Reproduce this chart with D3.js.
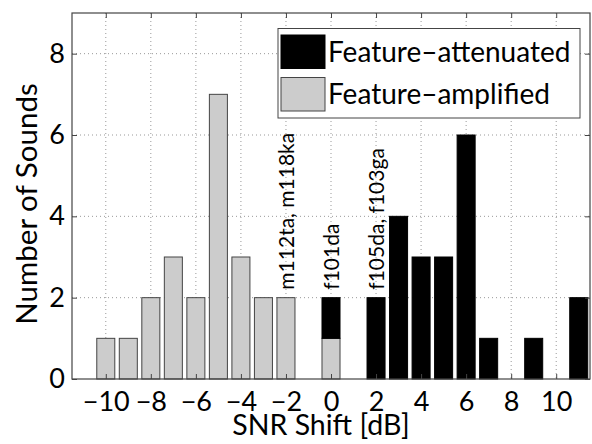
<!DOCTYPE html>
<html>
<head lang="en">
  <meta charset="UTF-8">
  <title>SNR shift histogram</title>
  <script src="https://cdn.jsdelivr.net/npm/d3@7"></script>
</head>
<style>
  body { margin: 0; background: #fff; }
  #chart text { font-family: Lato, "Liberation Sans", sans-serif; fill: #000; }
  .grid line { stroke: #999; stroke-width: 1; stroke-dasharray: 1,3; }
  .frame { fill: none; stroke: #444; stroke-width: 1.2; }
</style>
<body>

<svg id="chart" width="592" height="444"></svg>

<script>
  // data
  var shifts     = [-10, -9, -8, -7, -6, -5, -4, -3, -2, -1, 0, 1, 2, 3, 4, 5, 6, 7, 8, 9, 10, 11];
  var amplified  = [  1,  1,  2,  3,  2,  7,  3,  2,  2,  0, 1, 0, 0, 0, 0, 0, 0, 0, 0, 0,  0, 0];
  var attenuated = [  0,  0,  0,  0,  0,  0,  0,  0,  0,  0, 1, 0, 2, 4, 3, 3, 6, 1, 0, 1,  0, 2];
  var xTicks     = [-10, -8, -6, -4, -2, 0, 2, 4, 6, 8, 10];
  var yTicks     = [0, 2, 4, 6, 8];
  var notes      = [
    { shift: -2, label: 'm112ta, m118ka' },
    { shift: 0,  label: 'f101da' },
    { shift: 2,  label: 'f105da, f103ga' }
  ];
  var seriesNames = ['Feature–attenuated', 'Feature–amplified'];

  // plot box (window.top is reserved, so prefixed names)
  var plotLeft = 72, plotRight = 590, plotTop = 13, plotBottom = 379;
  var barWidth = 0.8;

  var x = d3.scaleLinear().domain([-11.5, 11.5]).range([plotLeft, plotRight]);
  var y = d3.scaleLinear().domain([0, 9]).range([plotBottom, plotTop]);

  var svg = d3.select('#chart');

  var rows = shifts.map(function (s, i) {
    return { shift: s, amplified: amplified[i], attenuated: attenuated[i] };
  });
  var stacked = d3.stack().keys(['amplified', 'attenuated'])(rows);
  var fills = { amplified: '#cccccc', attenuated: '#000000' };
  var strokes = { amplified: '#444444', attenuated: '#000000' };

  // grid
  var grid = svg.append('g').attr('class', 'grid');
  grid.selectAll('.gx').data(xTicks).enter().append('line')
    .attr('x1', x).attr('x2', x).attr('y1', plotTop).attr('y2', plotBottom);
  grid.selectAll('.gy').data(yTicks.slice(1)).enter().append('line')
    .attr('x1', plotLeft).attr('x2', plotRight).attr('y1', y).attr('y2', y);

  // bars
  stacked.forEach(function (layer) {
    svg.append('g').selectAll('rect')
      .data(layer.filter(function (d) { return d[1] - d[0] > 0; }))
      .enter().append('rect')
      .attr('x', function (d) { return x(d.data.shift - barWidth / 2); })
      .attr('width', function (d) { return x(barWidth) - x(0); })
      .attr('y', function (d) { return y(d[1]); })
      .attr('height', function (d) { return y(d[0]) - y(d[1]); })
      .attr('fill', fills[layer.key])
      .attr('stroke', strokes[layer.key])
      .attr('stroke-width', 1);
  });

  // frame
  svg.append('rect').attr('class', 'frame')
    .attr('x', plotLeft).attr('y', plotTop)
    .attr('width', plotRight - plotLeft).attr('height', plotBottom - plotTop);

  // axes (ticks pointing inwards, top and right mirrored)
  var fmt = function (d) { return d < 0 ? '−' + Math.abs(d) : d; };
  var xAxis = svg.append('g').attr('transform', 'translate(0,' + plotBottom + ')')
    .call(d3.axisBottom(x).tickValues(xTicks).tickSizeInner(-5).tickSizeOuter(0).tickPadding(13).tickFormat(fmt));
  svg.append('g').attr('transform', 'translate(0,' + plotTop + ')')
    .call(d3.axisTop(x).tickValues(xTicks).tickSizeInner(-5).tickSizeOuter(0).tickFormat(''));
  var yAxis = svg.append('g').attr('transform', 'translate(' + plotLeft + ',0)')
    .call(d3.axisLeft(y).tickValues(yTicks).tickSizeInner(-5).tickSizeOuter(0).tickPadding(7));
  svg.append('g').attr('transform', 'translate(' + plotRight + ',0)')
    .call(d3.axisRight(y).tickValues(yTicks).tickSizeInner(-5).tickSizeOuter(0).tickFormat(''));

  svg.selectAll('.domain').remove();
  svg.selectAll('.tick line').attr('stroke', '#444');
  xAxis.selectAll('text').attr('font-size', 27);
  yAxis.selectAll('text').attr('font-size', 27);

  // rotated labels above bars
  svg.append('g').selectAll('text')
    .data(notes).enter().append('text')
    .attr('transform', function (d) {
      var i = shifts.indexOf(d.shift);
      var total = amplified[i] + attenuated[i];
      return 'translate(' + (x(d.shift) + 8) + ',' + (y(total) - 8) + ') rotate(-90)';
    })
    .attr('font-size', 21)
    .text(function (d) { return d.label; });

  // legend
  var legend = svg.append('g');
  legend.append('rect')
    .attr('x', 278).attr('y', 28.5).attr('width', 302).attr('height', 89.5)
    .attr('fill', '#fff').attr('stroke', '#444').attr('stroke-width', 1);
  var items = legend.selectAll('.item').data(seriesNames).enter().append('g')
    .attr('transform', function (d, i) { return 'translate(281,' + (35 + i * 42.5) + ')'; });
  items.append('rect')
    .attr('width', 44).attr('height', 33.5)
    .attr('fill', function (d, i) { return i === 0 ? fills.attenuated : fills.amplified; })
    .attr('stroke', function (d, i) { return i === 0 ? '#000' : '#444'; });
  items.append('text')
    .attr('x', 47).attr('y', 17).attr('dy', '0.35em')
    .attr('font-size', 28)
    .text(function (d) { return d; });

  // axis titles
  svg.append('text')
    .attr('x', 321).attr('y', 435)
    .attr('text-anchor', 'middle').attr('font-size', 28.5)
    .text('SNR Shift [dB]');
  svg.append('text')
    .attr('transform', 'translate(37,204) rotate(-90)')
    .attr('text-anchor', 'middle').attr('font-size', 29.5)
    .text('Number of Sounds');
</script>
</body>
</html>
